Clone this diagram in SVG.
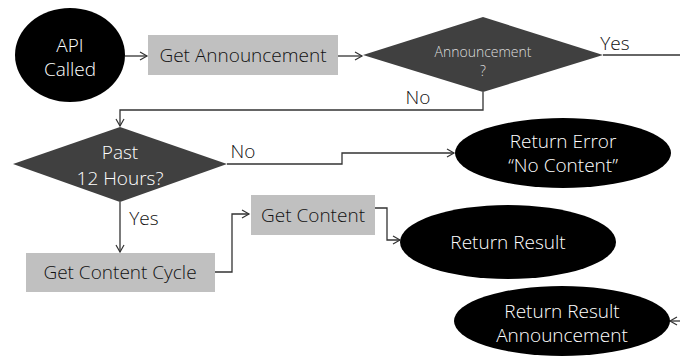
<svg xmlns="http://www.w3.org/2000/svg" width="680" height="358" viewBox="0 0 680 358">
<defs>
<style>
.t{font-family:"Open Sans","DejaVu Sans",sans-serif;font-size:19px;font-weight:300;text-anchor:middle}
.w{fill:#ffffff}
.k{fill:#111111}
.term{fill:#000000}
.proc{fill:#c0c0c0}
.dec{fill:#404040}
.c{fill:none;stroke:#333333;stroke-width:1.3}
</style>
<marker id="ah" markerWidth="10" markerHeight="10" refX="8" refY="5" orient="auto" markerUnits="userSpaceOnUse">
<path d="M1,1 L8,5 L1,9" fill="none" stroke="#333333" stroke-width="1.2"/>
</marker>
</defs>
<rect width="680" height="358" fill="#ffffff"/>
<g id="connectors">
<path class="c" d="M125,56 H147" marker-end="url(#ah)"/>
<path class="c" d="M338,56 H362" marker-end="url(#ah)"/>
<path class="c" d="M603,55 H680"/>
<path class="c" d="M483,92 V110 H120 V126" marker-end="url(#ah)"/>
<path class="c" d="M227,164 H342 V153 H454" marker-end="url(#ah)"/>
<path class="c" d="M120,202 V252" marker-end="url(#ah)"/>
<path class="c" d="M215,272 H232 V214 H249" marker-end="url(#ah)"/>
<path class="c" d="M375,208 H387 V240 H400" marker-end="url(#ah)"/>
<path class="c" d="M680,321 H670" marker-end="url(#ah)"/>
<text class="t k" x="615" y="50">Yes</text>
<text class="t k" x="418" y="104">No</text>
<text class="t k" x="243" y="158">No</text>
<text class="t k" x="144" y="225">Yes</text>
</g>
<g id="api-called">
<ellipse class="term" cx="70" cy="55" rx="55" ry="47"/>
<text class="t w" x="70" y="52">API</text>
<text class="t w" x="70" y="76">Called</text>
</g>
<g id="get-announcement">
<rect class="proc" x="148" y="35" width="190" height="40"/>
<text class="t k" x="243" y="62">Get Announcement</text>
</g>
<g id="announcement-decision">
<polygon class="dec" points="363,55 483,17 603,55 483,92"/>
<text class="t" style="font-size:14px;fill:#dddddd" x="483" y="57">Announcement</text>
<text class="t" style="font-size:14px;fill:#dddddd" x="483" y="76">?</text>
</g>
<g id="past-12-hours">
<polygon class="dec" points="13,164 120,127 227,164 120,202"/>
<text class="t w" x="120" y="159">Past</text>
<text class="t w" x="120" y="185">12 Hours?</text>
</g>
<g id="return-error">
<ellipse class="term" cx="563" cy="153" rx="108" ry="35"/>
<text class="t w" x="563" y="148">Return Error</text>
<text class="t w" x="563" y="172">“No Content”</text>
</g>
<g id="get-content-cycle">
<rect class="proc" x="26" y="253" width="189" height="39"/>
<text class="t k" x="120" y="279">Get Content Cycle</text>
</g>
<g id="get-content">
<rect class="proc" x="251" y="195" width="124" height="40"/>
<text class="t k" x="313" y="222">Get Content</text>
</g>
<g id="return-result">
<ellipse class="term" cx="508" cy="242" rx="108" ry="37"/>
<text class="t w" x="508" y="249">Return Result</text>
</g>
<g id="return-result-announcement">
<ellipse class="term" cx="562" cy="321" rx="108" ry="35"/>
<text class="t w" x="562" y="318">Return Result</text>
<text class="t w" x="562" y="342">Announcement</text>
</g>
</svg>
